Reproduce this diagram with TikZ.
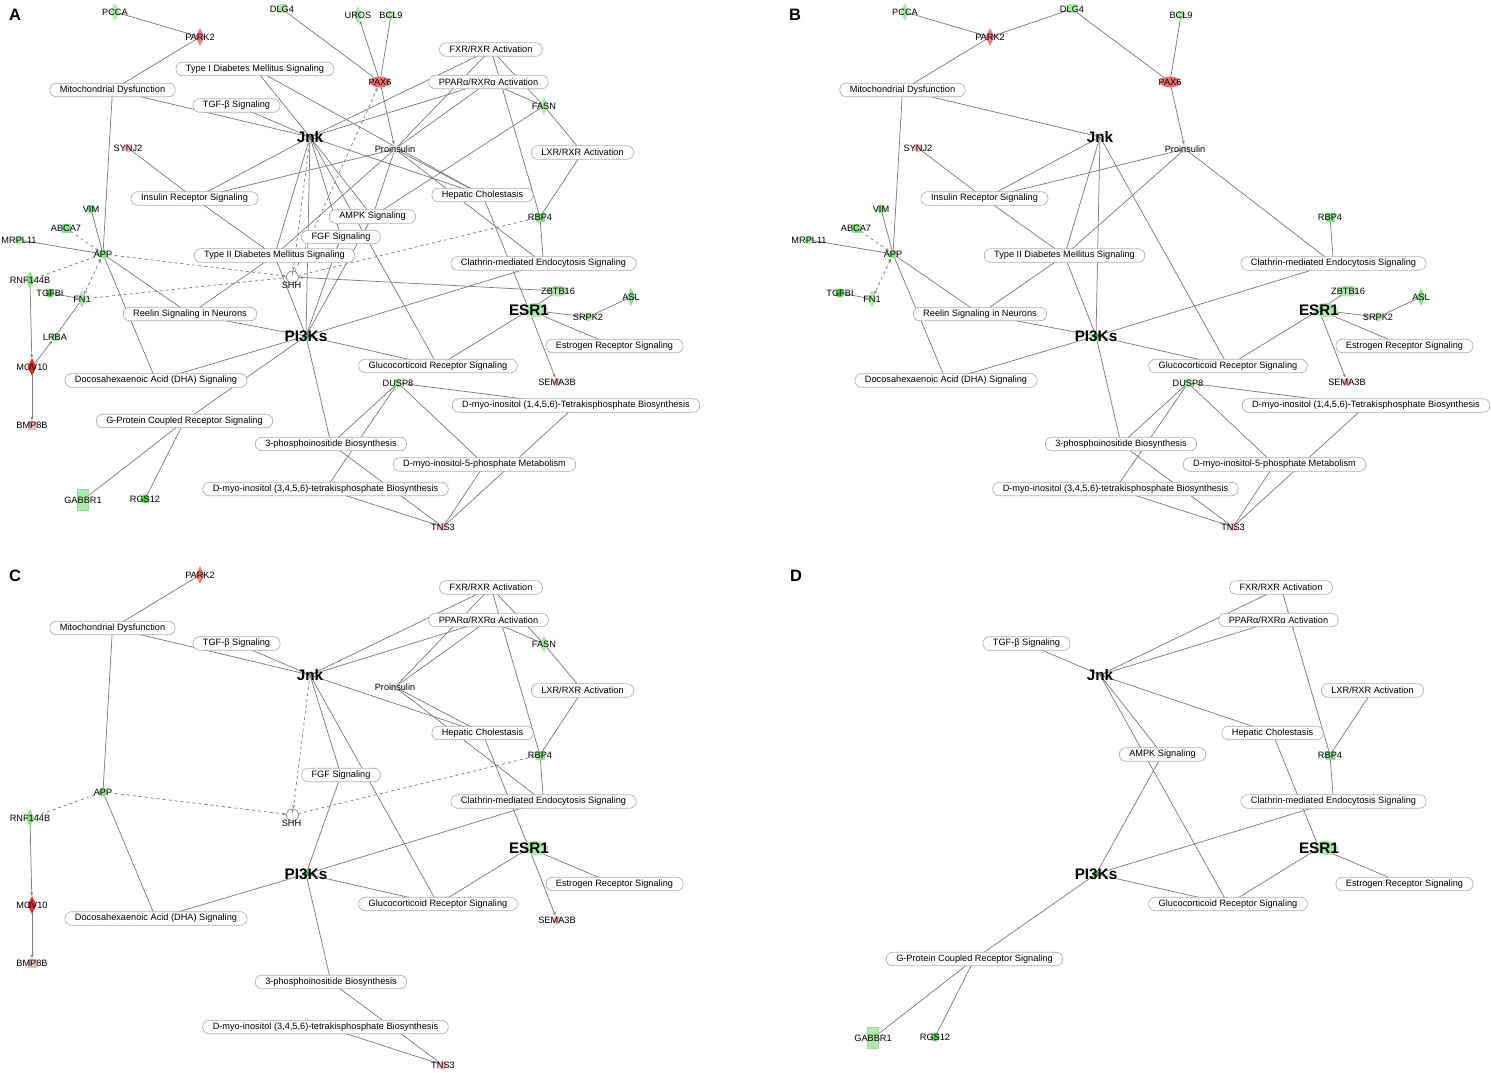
\documentclass[tikz,border=0pt]{standalone}
\usepackage{fontspec}
\setmainfont{Liberation Sans}
\usetikzlibrary{shapes.geometric,arrows.meta}
\pgfdeclarelayer{backdrop}
\pgfdeclarelayer{bg}
\pgfsetlayers{backdrop,bg,main}
\definecolor{edgegrey}{RGB}{128,128,128}
\definecolor{boxgrey}{RGB}{178,178,178}
\definecolor{lgreen}{RGB}{170,235,170}
\definecolor{green1}{RGB}{140,225,140}
\definecolor{green2}{RGB}{90,210,90}
\definecolor{green3}{RGB}{40,200,40}
\definecolor{salmon1}{RGB}{238,125,125}
\definecolor{red1}{RGB}{236,110,110}
\definecolor{red2}{RGB}{228,40,40}
\definecolor{pink1}{RGB}{246,190,190}
\definecolor{lgrey}{RGB}{226,226,226}
\newcommand\lab{\fontsize{9.2}{11}\selectfont}
\tikzset{
  pw/.style={draw=boxgrey,line width=0.7pt,fill=white,rounded corners=6.5pt,minimum height=13.5pt,inner xsep=10pt,inner ysep=1.5pt,font=\lab},
  glab/.style={inner sep=0pt,font=\lab},
  big/.style={inner sep=0pt,font=\fontsize{15.3}{18}\selectfont\bfseries},
  gdia/.style={diamond,inner sep=0pt,minimum width=9pt,minimum height=18pt},
  gcirc/.style={circle,inner sep=0pt,minimum size=9pt},
  gsq/.style={rectangle,inner sep=0pt,minimum size=9pt},
  gell/.style={ellipse,inner sep=0pt,minimum width=20pt,minimum height=11pt},
  grect/.style={rectangle,inner sep=0pt,minimum width=11pt,minimum height=21pt,draw=green1!80!black!60},
  ed/.style={draw=edgegrey,line width=0.75pt},
  arr/.style={-{Stealth[length=4pt,width=3pt]}},
  arrb/.style={{Stealth[length=4pt,width=3pt]}-{Stealth[length=4pt,width=3pt]}},
  letter/.style={inner sep=0pt,font=\fontsize{16.5}{18}\selectfont\bfseries}
}
% node builders
\newcommand\xP[3]{\node[pw] (\pfx#1) at (#2) {#3};}
\newcommand\xG[4]{\node[#3] (\pfx#1) at (#2) {}; \node[glab] at (#2) {#4};}
% edge builders
\newcommand\xE[2]{\draw[ed] (\pfx#1.center) -- (\pfx#2.center);}
\newcommand\xD[2]{\draw[ed,dashed] (\pfx#1.center) -- (\pfx#2.center);}
\newcommand\xA[2]{\draw[ed,arr] (\pfx#1.center) -- (\pfx#2);}
\newcommand\xDA[2]{\draw[ed,dashed,arr] (\pfx#1.center) -- (\pfx#2);}
\newcommand\xDB[2]{\draw[ed,dashed,arrb] (\pfx#1) -- (\pfx#2);}
% nodes (panel A coordinates)
\newcommand\ndPCCA{\xG{PCCA}{115,12}{gdia,fill=lgreen}{PCCA}}
\newcommand\ndPARK{\xG{PARK2}{200,37}{gdia,fill=salmon1}{PARK2}}
\newcommand\ndDLG{\xG{DLG4}{282,9}{gsq,fill=lgreen}{DLG4}}
\newcommand\ndUROS{\xG{UROS}{358,15}{gdia,fill=lgreen}{UROS}}
\newcommand\ndBCL{\xG{BCL9}{391,15}{gcirc,fill=lgreen}{BCL9}}
\newcommand\ndPAX{\xG{PAX6}{380,82}{gell,fill=red1}{PAX6}}
\newcommand\ndFXR{\xP{FXR}{491,49.5}{FXR/RXR Activation}}
\newcommand\ndPPAR{\xP{PPAR}{488.5,82}{PPARα/RXRα Activation}}
\newcommand\ndTypeI{\xP{TypeI}{255,69}{Type I Diabetes Mellitus Signaling}}
\newcommand\ndMito{\xP{Mito}{112.5,90}{Mitochondrial Dysfunction}}
\newcommand\ndTGF{\xP{TGF}{236.5,105.5}{TGF-β Signaling}}
\newcommand\ndFASN{\xG{FASN}{544,106}{gdia,fill=lgreen}{FASN}}
\newcommand\ndJnk{\node[big] (\pfx Jnk) at (310,137) {Jnk};}
\newcommand\ndProins{\xG{Proins}{395,149}{gcirc,fill=lgrey}{Proinsulin}}
\newcommand\ndLXR{\xP{LXR}{582.5,152.5}{LXR/RXR Activation}}
\newcommand\ndSYNJ{\xG{SYNJ2}{128,148}{gcirc,fill=pink1}{SYNJ2}}
\newcommand\ndIns{\xP{Ins}{194.5,198.5}{Insulin Receptor Signaling}}
\newcommand\ndHep{\xP{Hep}{482.5,195}{Hepatic Cholestasis}}
\newcommand\ndAMPK{\xP{AMPK}{372.5,216.5}{AMPK Signaling}}
\newcommand\ndFGF{\xP{FGF}{341,237}{FGF Signaling}}
\newcommand\ndRBP{\xG{RBP4}{540,217}{gsq,fill=green1}{RBP4}}
\newcommand\ndVIM{\xG{VIM}{91,209}{gcirc,fill=green1}{VIM}}
\newcommand\ndABCA{\xG{ABCA7}{66,228}{gsq,fill=green1}{ABCA7}}
\newcommand\ndMRPL{\xG{MRPL11}{19,240}{gcirc,fill=lgreen}{MRPL11}}
\newcommand\ndAPP{\xG{APP}{103,254}{gcirc,fill=green1}{APP}}
\newcommand\ndTypeII{\xP{TypeII}{274.5,255.5}{Type II Diabetes Mellitus Signaling}}
\newcommand\ndSHH{\node[circle,draw=edgegrey,fill=white,line width=0.6pt,minimum size=12pt,inner sep=0pt] (\pfx SHH) at (292.5,277) {};
  \draw[draw=edgegrey,line width=0.5pt,-{Stealth[length=2pt,width=2pt]}] (\pfx SHH.north) -- ++(0,4);
  \node[glab] at (291.5,285.5) {SHH};}
\newcommand\ndClath{\xP{Clath}{543.5,263.5}{Clathrin-mediated Endocytosis Signaling}}
\newcommand\ndRNF{\xG{RNF}{30,280}{gdia,fill=green1}{RNF144B}}
\newcommand\ndTGFBI{\xG{TGFBI}{50,293}{gcirc,fill=green2}{TGFBI}}
\newcommand\ndFN{\xG{FN1}{82,299}{gdia,fill=lgreen}{FN1}}
\newcommand\ndZBTB{\xG{ZBTB16}{558,291}{gell,fill=lgreen}{ZBTB16}}
\newcommand\ndASL{\xG{ASL}{631,297}{gdia,fill=green1}{ASL}}
\newcommand\ndESR{\node[gell,fill=lgreen,minimum width=24pt,minimum height=14pt] at (536,310) {};
  \node[big] (\pfx ESR) at (529,310) {ESR1};}
\newcommand\ndSRPK{\xG{SRPK2}{588,317}{gcirc,fill=lgreen}{SRPK2}}
\newcommand\ndReelin{\xP{Reelin}{190,314}{Reelin Signaling in Neurons}}
\newcommand\ndLRBA{\xG{LRBA}{55,337}{gcirc,fill=lgreen}{LRBA}}
\newcommand\ndPI{\node[circle,fill=green3,minimum size=6pt,inner sep=0pt] at (306,336) {};
  \node[big] (\pfx PI) at (306,336) {PI3Ks};}
\newcommand\ndEstr{\xP{Estr}{614.5,346}{Estrogen Receptor Signaling}}
\newcommand\ndMOV{\xG{MOV10}{32,367}{gdia,fill=red2}{MOV10}}
\newcommand\ndGluco{\xP{Gluco}{438,366}{Glucocorticoid Receptor Signaling}}
\newcommand\ndDHA{\xP{DHA}{156,380.5}{Docosahexaenoic Acid (DHA) Signaling}}
\newcommand\ndDUSP{\xG{DUSP8}{398,383}{gcirc,fill=lgreen}{DUSP8}}
\newcommand\ndSEMA{\xG{SEMA3B}{557,382}{gcirc,fill=pink1}{SEMA3B}}
\newcommand\ndDmA{\xP{DmA}{576,405.5}{D-myo-inositol (1,4,5,6)-Tetrakisphosphate Biosynthesis}}
\newcommand\ndGPCR{\xP{GPCR}{184.5,421}{G-Protein Coupled Receptor Signaling}}
\newcommand\ndBMP{\xG{BMP8B}{32,425}{gsq,fill=pink1}{BMP8B}}
\newcommand\ndTPB{\xP{TPB}{331,444}{3-phosphoinositide Biosynthesis}}
\newcommand\ndDmB{\xP{DmB}{484.5,464.5}{D-myo-inositol-5-phosphate Metabolism}}
\newcommand\ndDmC{\xP{DmC}{325.5,489}{D-myo-inositol (3,4,5,6)-tetrakisphosphate Biosynthesis}}
\newcommand\ndGAB{\xG{GABBR1}{83,500}{grect,fill=lgreen}{GABBR1}}
\newcommand\ndRGS{\xG{RGS12}{145,499}{gcirc,fill=green2}{RGS12}}
\newcommand\ndTNS{\xG{TNS3}{443,527}{gcirc,fill=pink1}{TNS3}}

\begin{document}
\begin{tikzpicture}[x=1pt,y=-1pt]
\begin{pgfonlayer}{backdrop}
\fill[white] (0,0) rectangle (1491,1073);
\end{pgfonlayer}
\useasboundingbox (0,0) rectangle (1491,1073);

% ================= Panel A =================
\node[letter] (labA) at (15,15) {A};
\def\pfx{a}
\begin{scope}
\ndPCCA \ndPARK \ndDLG \ndUROS \ndBCL \ndPAX \ndFXR \ndPPAR \ndTypeI \ndMito
\ndTGF \ndFASN \ndJnk \ndProins \ndLXR \ndSYNJ \ndIns \ndHep \ndAMPK \ndFGF
\ndRBP \ndVIM \ndABCA \ndMRPL \ndAPP \ndTypeII \ndSHH \ndClath \ndRNF \ndTGFBI
\ndFN \ndZBTB \ndASL \ndESR \ndSRPK \ndReelin \ndLRBA \ndPI \ndEstr \ndMOV
\ndGluco \ndDHA \ndDUSP \ndSEMA \ndDmA \ndGPCR \ndBMP \ndTPB \ndDmB \ndDmC
\ndGAB \ndRGS \ndTNS
\end{scope}
\begin{pgfonlayer}{bg}
\xE{PCCA}{PARK2} \xE{PARK2}{Mito} \xE{DLG4}{PAX6} \xA{PAX6}{UROS} \xE{BCL9}{PAX6}
\xA{PAX6}{Proins} \xDA{SHH}{PAX6} \xE{TypeI}{Jnk} \xE{TypeI}{Hep} \xE{Mito}{Jnk}
\xE{Mito}{APP} \xE{TGF}{Jnk} \xE{SYNJ2}{Ins} \xE{Jnk}{Ins} \xE{Ins}{Proins}
\xE{Ins}{TypeII} \xE{Jnk}{TypeII} \xE{Jnk}{FXR} \xE{Jnk}{PPAR} \xE{Jnk}{Hep}
\xDA{Jnk}{SHH} \xE{Jnk}{PI} \xE{Jnk}{AMPK} \xE{Jnk}{FGF} \xE{Jnk}{Gluco}
\xE{Proins}{FXR} \xE{Proins}{PPAR} \xE{Proins}{Hep} \xE{Proins}{Clath} \xE{Proins}{AMPK}
\xE{Proins}{TypeII} \xE{FXR}{FASN} \xE{PPAR}{FASN} \xE{FXR}{RBP4} \xE{FASN}{AMPK}
\xE{FASN}{LXR} \xE{LXR}{RBP4} \xE{RBP4}{Clath} \xD{RBP4}{SHH} \xE{Hep}{ESR}
\xE{MRPL11}{APP} \xE{VIM}{APP} \xDA{ABCA7}{APP} \xD{RNF}{APP} \xDB{APP}{FN1}
\xDA{APP}{SHH} \xD{FN1}{SHH} \xA{ZBTB16}{SHH} \xA{RNF}{MOV10} \xA{MOV10}{BMP8B}
\xA{MOV10}{LRBA} \xE{LRBA}{FN1} \xE{TGFBI}{FN1} \xE{APP}{Reelin} \xE{APP}{DHA}
\xE{TypeII}{Reelin} \xE{TypeII}{PI} \xE{Reelin}{PI} \xE{DHA}{PI} \xE{GPCR}{PI}
\xE{GPCR}{GABBR1} \xE{GPCR}{RGS12} \xE{AMPK}{PI} \xE{FGF}{PI} \xE{PI}{Clath}
\xE{PI}{Gluco} \xE{PI}{TPB} \xE{ESR}{Gluco} \xE{ESR}{ZBTB16} \xE{ESR}{SRPK2}
\xE{SRPK2}{ASL} \xE{ESR}{Estr} \xA{ESR}{SEMA3B} \xE{DUSP8}{DmA} \xE{DUSP8}{TPB}
\xE{DUSP8}{DmC} \xE{DUSP8}{DmB} \xE{DmA}{TNS3} \xE{DmB}{TNS3} \xE{TPB}{TNS3}
\xE{DmC}{TNS3}
\end{pgfonlayer}

% ================= Panel B =================
\node[letter] (labB) at (795,15) {B};
\def\pfx{b}
\begin{scope}[shift={(790,0)}]
\ndPCCA \ndPARK \ndDLG \ndBCL \ndPAX \ndMito \ndJnk \ndSYNJ \ndProins \ndIns
\ndVIM \ndABCA \ndMRPL \ndAPP \ndTypeII \ndRBP \ndClath \ndTGFBI \ndFN \ndReelin
\ndZBTB \ndASL \ndESR \ndSRPK \ndPI \ndEstr \ndGluco \ndDHA \ndDUSP \ndSEMA
\ndDmA \ndTPB \ndDmB \ndDmC \ndTNS
\end{scope}
\begin{pgfonlayer}{bg}
\xE{PCCA}{PARK2} \xE{PARK2}{DLG4} \xE{PARK2}{Mito} \xE{DLG4}{PAX6} \xE{BCL9}{PAX6}
\xA{PAX6}{Proins} \xE{Mito}{Jnk} \xE{Mito}{APP} \xE{SYNJ2}{Ins} \xE{Jnk}{Ins}
\xE{Ins}{Proins} \xE{Ins}{TypeII} \xE{Jnk}{TypeII} \xE{Proins}{TypeII} \xE{Proins}{Clath}
\xE{Jnk}{Gluco} \xE{Jnk}{PI} \xE{TypeII}{PI} \xE{TypeII}{Reelin} \xE{RBP4}{Clath}
\xE{VIM}{APP} \xDA{ABCA7}{APP} \xE{MRPL11}{APP} \xDB{APP}{FN1} \xE{TGFBI}{FN1}
\xE{APP}{Reelin} \xE{APP}{DHA} \xE{Reelin}{PI} \xE{PI}{Clath} \xE{ESR}{ZBTB16}
\xE{ESR}{SRPK2} \xE{SRPK2}{ASL} \xE{ESR}{Estr} \xA{ESR}{SEMA3B} \xE{ESR}{Gluco}
\xE{PI}{Gluco} \xE{PI}{DHA} \xE{PI}{TPB} \xE{DUSP8}{DmA} \xE{DUSP8}{TPB}
\xE{DUSP8}{DmC} \xE{DUSP8}{DmB} \xE{DmA}{TNS3} \xE{DmB}{TNS3} \xE{TPB}{TNS3}
\xE{DmC}{TNS3}
\end{pgfonlayer}

% ================= Panel C =================
\node[letter] (labC) at (15,576) {C};
\def\pfx{c}
\begin{scope}[shift={(0,538)}]
\ndPARK \ndMito \ndTGF \ndJnk \ndFXR \ndPPAR \ndFASN \ndProins \ndLXR \ndHep
\ndRBP \ndFGF \ndAPP \ndRNF \ndSHH \ndClath \ndESR \ndPI \ndEstr \ndMOV
\ndGluco \ndDHA \ndSEMA \ndBMP \ndTPB \ndDmC \ndTNS
\end{scope}
\begin{pgfonlayer}{bg}
\xE{PARK2}{Mito} \xE{Mito}{Jnk} \xE{Mito}{APP} \xE{TGF}{Jnk} \xE{Jnk}{FXR}
\xE{Jnk}{PPAR} \xE{Jnk}{Hep} \xDA{Jnk}{SHH} \xE{Jnk}{FGF} \xE{Jnk}{Gluco}
\xE{FGF}{PI} \xE{Proins}{FXR} \xE{Proins}{PPAR} \xE{Proins}{Hep} \xE{Proins}{Clath}
\xE{FXR}{FASN} \xE{PPAR}{FASN} \xE{FXR}{RBP4} \xE{FASN}{LXR} \xE{LXR}{RBP4}
\xE{RBP4}{Clath} \xD{RBP4}{SHH} \xE{Hep}{ESR} \xDA{APP}{SHH} \xD{RNF}{APP}
\xE{APP}{DHA} \xA{RNF}{MOV10} \xA{MOV10}{BMP8B} \xE{PI}{Clath} \xE{PI}{Gluco}
\xE{PI}{DHA} \xE{PI}{TPB} \xE{ESR}{Gluco} \xE{ESR}{Estr} \xA{ESR}{SEMA3B}
\xE{TPB}{TNS3} \xE{DmC}{TNS3}
\end{pgfonlayer}

% ================= Panel D =================
\node[letter] (labD) at (796,576) {D};
\def\pfx{d}
\begin{scope}[shift={(790,538)}]
\ndTGF \ndJnk \ndFXR \ndPPAR \ndLXR \ndHep \ndAMPK \ndRBP \ndClath \ndESR
\ndPI \ndEstr \ndGluco \ndGPCR \ndGAB \ndRGS
\end{scope}
\begin{pgfonlayer}{bg}
\xE{TGF}{Jnk} \xE{Jnk}{FXR} \xE{Jnk}{PPAR} \xE{Jnk}{Hep} \xE{Jnk}{AMPK}
\xE{Jnk}{Gluco} \xE{AMPK}{PI} \xE{FXR}{RBP4} \xE{LXR}{RBP4} \xE{RBP4}{Clath}
\xE{Hep}{ESR} \xE{PI}{Clath} \xE{PI}{Gluco} \xE{ESR}{Gluco} \xE{ESR}{Estr}
\xE{PI}{GPCR} \xE{GPCR}{GABBR1} \xE{GPCR}{RGS12}
\end{pgfonlayer}
\end{tikzpicture}
\end{document}
